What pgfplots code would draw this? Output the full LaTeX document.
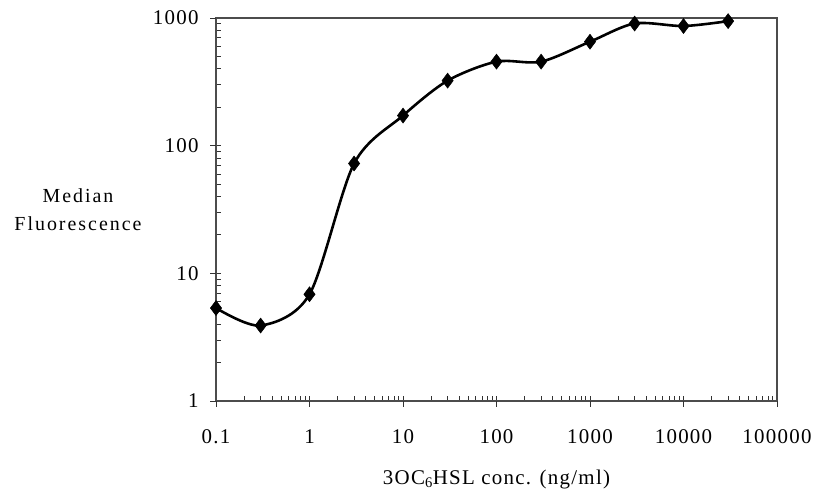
\documentclass[border=0pt]{standalone}
\usepackage{fontspec}
\setmainfont[LetterSpace=6]{Liberation Serif}
\usepackage{pgfplots}
\pgfplotsset{compat=1.18}
\begin{document}
\begin{tikzpicture}[x=1bp,y=1bp]
\fill[white] (0,0) rectangle (815,495);
\useasboundingbox (0,0) rectangle (815,495);
\begin{axis}[
  at={(216bp,94bp)}, anchor=south west,
  scale only axis, width=561bp, height=383bp,
  xmode=log, ymode=log,
  xmin=0.1, xmax=100000, ymin=1, ymax=1000,
  axis line style={black!70, line width=1.1pt},
  every tick/.style={black!80, line width=0.8pt},
  xtick pos=bottom, ytick pos=left,
  tick align=inside,
  major tick length=0pt, minor tick length=5bp,
  xtick={0.1,1,10,100,1000,10000,100000},
  xticklabels={0.1,1,10,100,1000,10000,100000},
  ytick={1,10,100,1000},
  yticklabels={1,10,100,1000},
  extra x ticks={0.1,1,10,100,1000,10000,100000},
  extra x tick labels={},
  extra y ticks={1,10,100,1000},
  extra y tick labels={},
  extra tick style={tick align=outside, major tick length=6bp},
  ticklabel style={font=\fontsize{21}{25}\selectfont},
  xticklabel style={yshift=-25bp},
  yticklabel style={xshift=-14bp},
  xlabel={3OC\textsubscript{6}HSL conc. (ng/ml)},
  xlabel style={font=\fontsize{21}{25}\selectfont, at={(axis description cs:0.5,-0.205)}, anchor=center},
  ylabel={Median\\Fluorescence},
  ylabel style={font=\fontsize{20}{28}\selectfont\addfontfeatures{LetterSpace=10}, align=center, rotate=-90, at={(axis description cs:-0.246,0.5)}, anchor=center},
  clip=false,
]
\addplot[black, line width=2.6pt, smooth, mark=diamond*, mark size=7.5bp, mark options={fill=black, line width=0.5pt}]
coordinates {
(0.1,5.35) (0.3,3.9) (1,6.85) (3,72.5) (10,172) (30,323) (100,455) (300,455) (1000,652) (3000,905) (10000,865) (30000,945)
};
\end{axis}
\end{tikzpicture}
\end{document}
